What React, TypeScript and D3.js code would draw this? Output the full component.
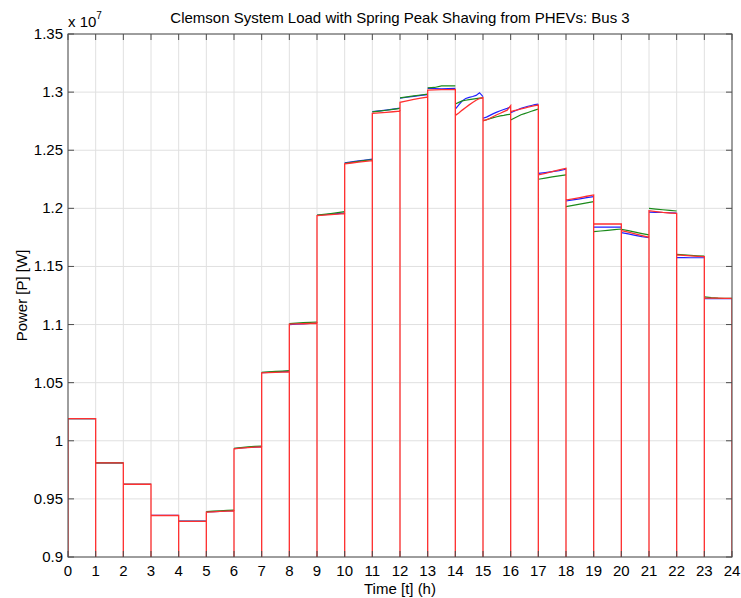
import React from "react";
import * as d3 from "d3";

// Hourly load (x 10^7 W); each hour holds evenly spaced samples across the hour
const hours: number[] = d3.range(0, 24);

const loadRed: number[][] = [
  [1.019, 1.019, 1.019, 1.019, 1.019],
  [0.981, 0.981, 0.981, 0.981, 0.981],
  [0.9626, 0.9626, 0.9626, 0.9626, 0.9626],
  [0.9357, 0.9357, 0.9357, 0.9357, 0.9357],
  [0.9307, 0.9307, 0.9307, 0.9307, 0.9307],
  [0.9386, 0.9389, 0.9392, 0.9395, 0.9397],
  [0.993, 0.9936, 0.9941, 0.9945, 0.9948],
  [1.0585, 1.0587, 1.0589, 1.0591, 1.0593],
  [1.1003, 1.1005, 1.1007, 1.1009, 1.1011],
  [1.1938, 1.1942, 1.1946, 1.195, 1.1954],
  [1.2383, 1.239, 1.2397, 1.2404, 1.241],
  [1.2818, 1.2822, 1.2826, 1.2831, 1.2836],
  [1.2912, 1.2925, 1.2938, 1.2948, 1.2958],
  [1.3018, 1.302, 1.3021, 1.3022, 1.3024],
  [1.28, 1.282, 1.2845, 1.2868, 1.289, 1.291, 1.293, 1.2945, 1.2952],
  [1.2755, 1.2762, 1.2775, 1.279, 1.2805, 1.2818, 1.2832, 1.2845, 1.2883],
  [1.2832, 1.284, 1.2848, 1.2855, 1.2862, 1.287, 1.2877, 1.2883, 1.2889],
  [1.2287, 1.23, 1.2315, 1.233, 1.2345],
  [1.2072, 1.2082, 1.2093, 1.2104, 1.2115],
  [1.1865, 1.1865, 1.1865, 1.1865, 1.1865],
  [1.1808, 1.1795, 1.178, 1.1765, 1.1751],
  [1.198, 1.1972, 1.1965, 1.196, 1.1957],
  [1.1599, 1.1595, 1.1591, 1.1587, 1.1584],
  [1.1228, 1.1228, 1.1227, 1.1226, 1.1225],
];

const loadBlue: number[][] = [
  [1.019, 1.019, 1.019, 1.019, 1.019],
  [0.981, 0.981, 0.981, 0.981, 0.981],
  [0.9626, 0.9626, 0.9626, 0.9626, 0.9626],
  [0.9358, 0.9358, 0.9358, 0.9358, 0.9358],
  [0.9308, 0.9308, 0.9308, 0.9308, 0.9308],
  [0.9388, 0.939, 0.9393, 0.9396, 0.9398],
  [0.9933, 0.9938, 0.9942, 0.9946, 0.995],
  [1.0586, 1.0589, 1.0592, 1.0595, 1.0597],
  [1.1, 1.1003, 1.1006, 1.1009, 1.1012],
  [1.194, 1.1945, 1.195, 1.1955, 1.196],
  [1.2392, 1.24, 1.2408, 1.2416, 1.2423],
  [1.2832, 1.2838, 1.2845, 1.2853, 1.2862],
  [1.2948, 1.2956, 1.2964, 1.2972, 1.2978],
  [1.3033, 1.3031, 1.3028, 1.303, 1.3032],
  [1.2853, 1.289, 1.2925, 1.2945, 1.2955, 1.2962, 1.2972, 1.2995, 1.2962],
  [1.2775, 1.2785, 1.28, 1.2815, 1.2828, 1.284, 1.285, 1.286, 1.2872],
  [1.2822, 1.2835, 1.2848, 1.286, 1.287, 1.2878, 1.2885, 1.2892, 1.2897],
  [1.23, 1.2308, 1.2316, 1.2324, 1.2336],
  [1.2063, 1.2072, 1.2082, 1.2092, 1.21],
  [1.1838, 1.1838, 1.1838, 1.1838, 1.1838],
  [1.1791, 1.178, 1.1768, 1.1757, 1.1748],
  [1.1968, 1.1966, 1.1964, 1.1962, 1.196],
  [1.1576, 1.1576, 1.1575, 1.1575, 1.1575],
  [1.1222, 1.1222, 1.1222, 1.1222, 1.1222],
];

const loadGreen: number[][] = [
  [1.019, 1.019, 1.019, 1.019, 1.019],
  [0.981, 0.981, 0.981, 0.981, 0.981],
  [0.9626, 0.9626, 0.9626, 0.9626, 0.9626],
  [0.9357, 0.9357, 0.9357, 0.9357, 0.9357],
  [0.9307, 0.9307, 0.9307, 0.9307, 0.9307],
  [0.939, 0.9394, 0.9398, 0.9401, 0.9403],
  [0.9935, 0.9941, 0.9947, 0.9952, 0.9955],
  [1.0589, 1.0593, 1.0597, 1.06, 1.0603],
  [1.1008, 1.1012, 1.1016, 1.1019, 1.1022],
  [1.1942, 1.1948, 1.1955, 1.1963, 1.1971],
  [1.2388, 1.2396, 1.2404, 1.2412, 1.2418],
  [1.283, 1.2837, 1.2844, 1.2852, 1.286],
  [1.295, 1.2959, 1.2967, 1.2975, 1.2982],
  [1.3036, 1.304, 1.3053, 1.3053, 1.3053],
  [1.2898, 1.2912, 1.2925, 1.293, 1.2935, 1.294, 1.2944, 1.2948, 1.295],
  [1.2752, 1.2762, 1.2772, 1.278, 1.2788, 1.2795, 1.28, 1.2806, 1.281],
  [1.276, 1.2775, 1.279, 1.2805, 1.2815, 1.2825, 1.2835, 1.2845, 1.2855],
  [1.225, 1.226, 1.227, 1.228, 1.2288],
  [1.2014, 1.2025, 1.2036, 1.2047, 1.2057],
  [1.1799, 1.1805, 1.1811, 1.1817, 1.1822],
  [1.182, 1.1808, 1.1795, 1.1783, 1.1771],
  [1.2, 1.1994, 1.1988, 1.1982, 1.1977],
  [1.1604, 1.16, 1.1596, 1.1592, 1.1588],
  [1.1238, 1.1232, 1.1228, 1.1226, 1.1225],
];

const xTicks: number[] = d3.range(0, 25);
const yTicks: number[] = [0.9, 0.95, 1, 1.05, 1.1, 1.15, 1.2, 1.25, 1.3, 1.35];

const W = 741;
const H = 598;
const left = 68;
const right = 732;
const top = 34;
const bottom = 557;
const FONT = "'Liberation Sans', Arial, Helvetica, sans-serif";

const x = d3.scaleLinear().domain([0, 24]).range([left, right]);
const y = d3.scaleLinear().domain([0.9, 1.35]).range([bottom, top]);

const line = d3
  .line<[number, number]>()
  .x((d) => x(d[0]))
  .y((d) => y(d[1]));

// Samples of one hour placed evenly between h and h+1
const hourPoints = (h: number, vs: number[]): [number, number][] =>
  vs.map((v, i) => [h + i / (vs.length - 1), v] as [number, number]);

// Outline per hour: up from the floor, across the samples, back down
function hourOutlinePath(series: number[][]): string {
  const pts: [number, number][] = [];
  hours.forEach((h) => {
    pts.push([h, 0.9]);
    pts.push(...hourPoints(h, series[h]));
    pts.push([h + 1, 0.9]);
  });
  return line(pts) || "";
}

// Separate top segment for each hour
function hourTopsPath(series: number[][]): string {
  return hours.map((h) => line(hourPoints(h, series[h])) || "").join("");
}

const fmtY = (v: number) => String(+v.toFixed(2));

export default function App() {
  const tick = 6;
  const axisColor = "#4d4d4d";
  return (
    <svg
      width={W}
      height={H}
      style={{ position: "absolute", left: 0, top: 0, background: "#fff" }}
      fontFamily={FONT}
    >
      <defs>
        <clipPath id="plotArea">
          <rect x={left} y={top} width={right - left} height={bottom - top} />
        </clipPath>
      </defs>
      <rect x={0} y={0} width={W} height={H} fill="#fff" />

      {/* grid */}
      <g stroke="#e0e0e0" strokeWidth={1}>
        {xTicks.map((t) => (
          <line key={"gx" + t} x1={x(t)} x2={x(t)} y1={top} y2={bottom} />
        ))}
        {yTicks.map((t) => (
          <line key={"gy" + t} x1={left} x2={right} y1={y(t)} y2={y(t)} />
        ))}
      </g>

      {/* load traces */}
      <g clipPath="url(#plotArea)" fill="none" strokeWidth={1.2} strokeLinejoin="miter">
        <path d={hourTopsPath(loadBlue)} stroke="#2020ff" />
        <path d={hourTopsPath(loadGreen)} stroke="#1a8a1a" />
        <path d={hourOutlinePath(loadRed)} stroke="#ff3030" strokeWidth={1.3} />
      </g>

      {/* axes box and inward ticks */}
      <g stroke={axisColor} strokeWidth={1} fill="none">
        <rect x={left} y={top} width={right - left} height={bottom - top} />
        {xTicks.map((t) => (
          <g key={"tx" + t}>
            <line x1={x(t)} x2={x(t)} y1={bottom} y2={bottom - tick} />
            <line x1={x(t)} x2={x(t)} y1={top} y2={top + tick} />
          </g>
        ))}
        {yTicks.map((t) => (
          <g key={"ty" + t}>
            <line x1={left} x2={left + tick} y1={y(t)} y2={y(t)} />
            <line x1={right} x2={right - tick} y1={y(t)} y2={y(t)} />
          </g>
        ))}
      </g>

      {/* tick labels */}
      <g fontSize={15} fill="#000">
        {xTicks.map((t) => (
          <text key={"lx" + t} x={x(t)} y={576} textAnchor="middle">
            {t}
          </text>
        ))}
        {yTicks.map((t) => (
          <text key={"ly" + t} x={left - 5} y={y(t) + 5} textAnchor="end">
            {fmtY(t)}
          </text>
        ))}
      </g>

      {/* exponent */}
      <text x={left} y={27} fontSize={15} fill="#000">
        x 10
        <tspan fontSize={10} dy={-8}>
          7
        </tspan>
      </text>

      <text x={(left + right) / 2} y={23} fontSize={15} textAnchor="middle" fill="#000">
        Clemson System Load with Spring Peak Shaving from PHEVs: Bus 3
      </text>
      <text x={(left + right) / 2} y={594} fontSize={15} textAnchor="middle" fill="#000">
        Time [t] (h)
      </text>
      <text
        transform={`translate(27, ${(top + bottom) / 2}) rotate(-90)`}
        fontSize={15}
        textAnchor="middle"
        fill="#000"
      >
        Power [P] [W]
      </text>
    </svg>
  );
}
